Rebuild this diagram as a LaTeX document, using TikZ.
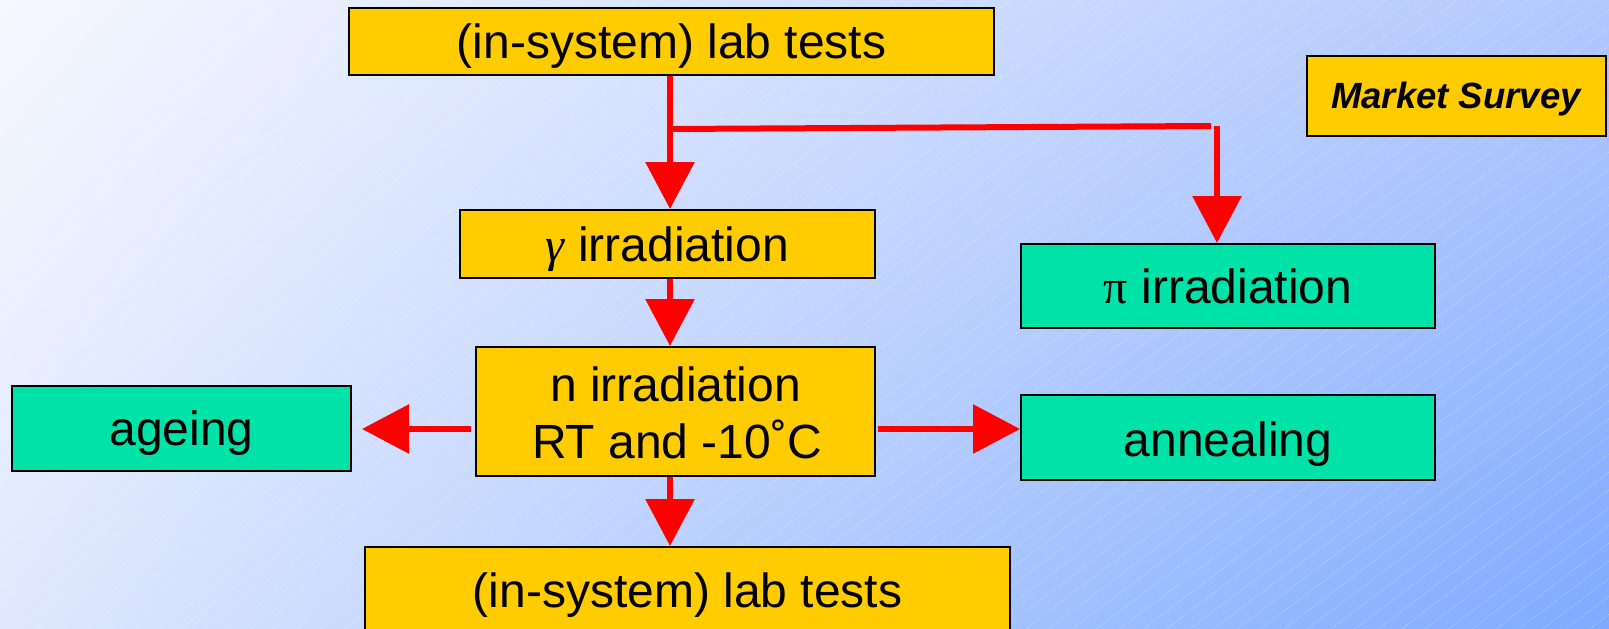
\documentclass[tikz,border=0pt]{standalone}
\usepackage{fontspec}
\setmainfont{Liberation Sans}
\newfontfamily\greekfont{Liberation Serif}
\usetikzlibrary{arrows.meta,shadings}

\definecolor{boxyellow}{HTML}{FFCC00}
\definecolor{boxgreen}{HTML}{00E3A8}
\definecolor{flowred}{HTML}{FF0000}
\definecolor{bgul}{HTML}{F6F8FF}
\definecolor{bgur}{HTML}{B2C8FD}
\definecolor{bgll}{HTML}{DFE8FD}
\definecolor{bglr}{HTML}{7EAAFF}

\begin{document}
\begin{tikzpicture}[x=1pt,y=-1pt,
  box/.style={draw=black, line width=2pt, inner sep=0pt,
    text height=34.5pt, text depth=0pt, font=\fontsize{48}{57}\selectfont},
  yellowbox/.style={box, fill=boxyellow},
  greenbox/.style={box, fill=boxgreen},
  bigtext/.style={inner sep=0pt, anchor=base, font=\fontsize{48}{57}\selectfont},
  flow/.style={draw=flowred, line width=6pt, -{Triangle[length=47pt,width=48pt]}},
  plainflow/.style={draw=flowred, line width=6pt},
  stripe/.style={white, opacity=0.4, line width=0.6pt, dash pattern=on 1pt off 1pt},
]
\useasboundingbox (0,0) rectangle (1609,629);

% background: diagonal blue gradient with fine hatching
\begin{scope}
  \clip (0,0) rectangle (1609,629);
  \shade[upper left=bgul, upper right=bgur, lower left=bgll, lower right=bglr]
    (0,0) rectangle (1609,629);
  \foreach \k in {0,...,105}
    \draw[stripe] (\k*23.5,0) -- ++(-831,629);
\end{scope}

% boxes
\node[yellowbox, minimum width=645pt, minimum height=67pt] (top) at (671.5,41.5)
  {(in-system) lab tests};
\node[yellowbox, minimum width=299pt, minimum height=80pt,
  text height=25.8pt, font=\fontsize{36.5}{43}\selectfont\bfseries\itshape]
  (market) at (1456,96) {Market Survey};
\node[yellowbox, minimum width=415pt, minimum height=68pt] (gamma) at (667.5,244)
  {{\greekfont\itshape γ} irradiation};
\node[greenbox, minimum width=414pt, minimum height=84pt] (pi) at (1228,286)
  {{\greekfont π} irradiation};
\node[yellowbox, minimum width=399pt, minimum height=129pt] (n) at (675.5,411.5) {};
\node[bigtext] (nline1) at (675.5,401) {n irradiation};
\node[bigtext] (nline2) at (677,458) {RT and -10˚C};
\node[greenbox, minimum width=339pt, minimum height=85pt] (ageing) at (181.5,428.5)
  {ageing};
\node[greenbox, minimum width=414pt, minimum height=85pt, text height=37.5pt]
  (annealing) at (1228,437.5) {annealing};
\node[yellowbox, minimum width=645pt, minimum height=86pt] (bottom) at (687.5,590)
  {(in-system) lab tests};

% connectors
\coordinate (j1) at (670,129);
\coordinate (j2) at (1211,126);
\coordinate (j3) at (1217,126);
\coordinate (hl) at (0,429);

\draw[flow] (j1 |- top.south) -- (j1 |- gamma.north);
\draw[plainflow] (j1) -- (j2);
\draw[flow] (j3) -- (j3 |- pi.north);
\draw[flow] (j1 |- gamma.south) -- (j1 |- n.north);
\draw[flow] (j1 |- n.south) -- (j1 |- bottom.north);
\draw[flow, shorten <=4pt, shorten >=10pt] (n.west |- hl) -- (ageing.east |- hl);
\draw[flow, shorten <=2pt] (n.east |- hl) -- (annealing.west |- hl);
\end{tikzpicture}
\end{document}
